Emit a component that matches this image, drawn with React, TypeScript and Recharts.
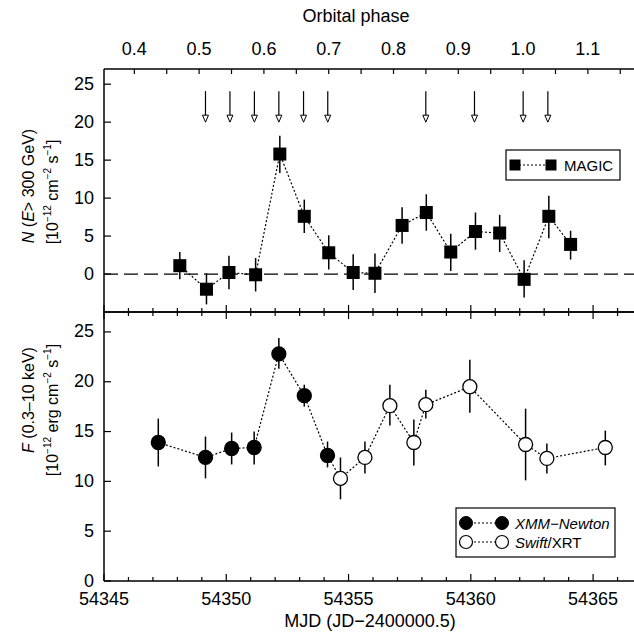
import React from 'react';
import { ComposedChart, Scatter, XAxis, YAxis, ErrorBar, ReferenceLine } from 'recharts';

const FONT = '"Liberation Sans", Arial, Helvetica, sans-serif';

// MAGIC, N(E>300 GeV) in 1e-12 cm^-2 s^-1
const magicMjd = [54348.1, 54349.19, 54350.11, 54351.2, 54352.19, 54353.19, 54354.19, 54355.19, 54356.08, 54357.19, 54358.18, 54359.18, 54360.19, 54361.18, 54362.18, 54363.19, 54364.08];
const magicFlux = [1.1, -2.0, 0.2, -0.1, 15.8, 7.6, 2.8, 0.2, 0.1, 6.4, 8.1, 2.9, 5.6, 5.4, -0.7, 7.6, 3.9];
const magicLow = [-0.7, -4.0, -2.0, -2.3, 13.3, 5.4, 0.6, -2.1, -2.5, 4.0, 5.7, 0.4, 3.2, 2.9, -3.1, 4.7, 1.9];
const magicHigh = [2.9, 0.1, 2.4, 2.1, 18.2, 9.8, 5.1, 2.6, 2.7, 8.8, 10.5, 5.3, 8.1, 7.8, 1.8, 10.3, 5.7];

// arrows above the MAGIC panel
const arrowMjd = [54349.15, 54350.15, 54351.15, 54352.15, 54353.16, 54354.15, 54358.16, 54360.15, 54362.14, 54363.15];
const arrowLevel = 20;

// XMM-Newton, F(0.3-10 keV) in 1e-12 erg cm^-2 s^-1
const xmmMjd = [54347.22, 54349.15, 54350.22, 54351.14, 54352.15, 54353.19, 54354.14];
const xmmFlux = [13.9, 12.4, 13.3, 13.4, 22.8, 18.6, 12.6];
const xmmLow = [11.5, 10.3, 11.7, 11.7, 21.3, 17.5, 11.4];
const xmmHigh = [16.3, 14.5, 14.9, 15.0, 24.4, 19.7, 14.0];

// Swift/XRT
const swiftMjd = [54354.67, 54355.67, 54356.69, 54357.67, 54358.16, 54359.96, 54362.24, 54363.11, 54365.5];
const swiftFlux = [10.3, 12.4, 17.6, 13.9, 17.7, 19.5, 13.7, 12.3, 13.4];
const swiftLow = [8.2, 10.8, 15.6, 11.6, 16.3, 16.9, 10.1, 10.8, 11.6];
const swiftHigh = [12.4, 14.0, 19.7, 16.2, 19.2, 22.2, 17.3, 13.8, 15.1];

const mjdTicks = [54345, 54346, 54347, 54348, 54349, 54350, 54351, 54352, 54353, 54354, 54355, 54356, 54357, 54358, 54359, 54360, 54361, 54362, 54363, 54364, 54365, 54366, 54367];
const phaseTicks = [0.4, 0.45, 0.5, 0.55, 0.6, 0.65, 0.7, 0.75, 0.8, 0.85, 0.9, 0.95, 1.0, 1.05, 1.1, 1.15];
const yTicks = [0, 5, 10, 15, 20, 25];

const MJD_DOMAIN: [number, number] = [54345, 54367];
const PERIOD = 26.496;
const PHASE_START = 0.3532;
const PHASE_DOMAIN: [number, number] = [PHASE_START, PHASE_START + (MJD_DOMAIN[1] - MJD_DOMAIN[0]) / PERIOD];

const magicData = magicMjd.map((x, i) => ({
  x,
  y: magicFlux[i],
  err: [magicFlux[i] - magicLow[i], magicHigh[i] - magicFlux[i]],
}));
const arrowData = arrowMjd.map((x) => ({ x, y: arrowLevel }));
const xrayData = [
  ...xmmMjd.map((x, i) => ({ x, y: xmmFlux[i], err: [xmmFlux[i] - xmmLow[i], xmmHigh[i] - xmmFlux[i]], inst: 'xmm' })),
  ...swiftMjd.map((x, i) => ({ x, y: swiftFlux[i], err: [swiftFlux[i] - swiftLow[i], swiftHigh[i] - swiftFlux[i]], inst: 'swift' })),
].sort((a, b) => a.x - b.x);

// invisible anchors so the extra frame axes get a series of their own
const phaseAnchor = [{ x: 0.5, y: 10 }];
const mjdAnchor = [{ x: 54350, y: 10 }];

const axisStyle = { stroke: '#000', strokeWidth: 1.5 };
const dotted = { stroke: '#000', strokeWidth: 1.2, strokeDasharray: '2 2' };

const MjdTick = ({ x, y, payload, dir, label }: any) => {
  const major = payload.value % 5 === 0;
  const len = major ? 7 : 4;
  return (
    <g>
      <line x1={x} x2={x} y1={y} y2={y + dir * len} stroke="#000" strokeWidth={1.2} />
      {label && major && (
        <text x={x} y={y + 24} textAnchor="middle" fontSize={18} fontFamily={FONT} fill="#000">
          {payload.value}
        </text>
      )}
    </g>
  );
};

const PhaseTick = ({ x, y, payload }: any) => {
  const v = payload.value;
  const major = Math.abs(v * 10 - Math.round(v * 10)) < 1e-6;
  return (
    <g>
      <line x1={x} x2={x} y1={y} y2={y + 5} stroke="#000" strokeWidth={1.2} />
      {major && (
        <text x={x} y={y - 14} textAnchor="middle" fontSize={18} fontFamily={FONT} fill="#000">
          {v.toFixed(1)}
        </text>
      )}
    </g>
  );
};

const YTick = ({ x, y, payload }: any) => (
  <g>
    <line x1={x} x2={x + 7} y1={y} y2={y} stroke="#000" strokeWidth={1.2} />
    <text x={x - 10} y={y + 5.5} textAnchor="end" fontSize={18} fontFamily={FONT} fill="#000">
      {payload.value}
    </text>
  </g>
);

const NoShape = () => <g />;

const SquareShape = ({ cx, cy }: any) => <rect x={cx - 6.5} y={cy - 6.5} width={13} height={13} fill="#000" />;

const ArrowShape = ({ cx, cy }: any) => (
  <g>
    <line x1={cx} x2={cx} y1={cy - 31} y2={cy - 6} stroke="#000" strokeWidth={1.2} />
    <polygon points={`${cx - 3},${cy - 7} ${cx + 3},${cy - 7} ${cx},${cy}`} fill="#fff" stroke="#000" strokeWidth={1} />
  </g>
);

const XrayShape = ({ cx, cy, payload }: any) => (
  <circle cx={cx} cy={cy} r={7} fill={payload.inst === 'xmm' ? '#000' : '#fff'} stroke="#000" strokeWidth={1.3} />
);

const Sup = ({ children }: { children: string }) => (
  <tspan fontSize={10} dy={-7}>
    {children}
  </tspan>
);
const Down = ({ children }: { children: string }) => <tspan dy={7}>{children}</tspan>;

function Overlay() {
  return (
    <svg width={634} height={637} style={{ position: 'absolute', left: 0, top: 0, pointerEvents: 'none' }}>
      <g fontFamily={FONT} fill="#000">
        <text x={356} y={22} textAnchor="middle" fontSize={18}>
          Orbital phase
        </text>
        <text x={370} y={627} textAnchor="middle" fontSize={18}>
          MJD (JD−2400000.5)
        </text>

        <text x={34} y={186} textAnchor="middle" fontSize={16} transform="rotate(-90 34 186)">
          <tspan fontStyle="italic">N</tspan> (<tspan fontStyle="italic">E</tspan>&gt; 300 GeV)
        </text>
        <text x={58} y={192} textAnchor="middle" fontSize={16} transform="rotate(-90 58 192)">
          [10<Sup>−12</Sup>
          <Down> cm</Down>
          <Sup>−2</Sup>
          <Down> s</Down>
          <Sup>−1</Sup>
          <Down>]</Down>
        </text>

        <text x={34} y={400} textAnchor="middle" fontSize={16} transform="rotate(-90 34 400)">
          <tspan fontStyle="italic">F</tspan> (0.3–10 keV)
        </text>
        <text x={58} y={410} textAnchor="middle" fontSize={16} transform="rotate(-90 58 410)">
          [10<Sup>−12</Sup>
          <Down> erg cm</Down>
          <Sup>−2</Sup>
          <Down> s</Down>
          <Sup>−1</Sup>
          <Down>]</Down>
        </text>
      </g>

      {/* MAGIC legend */}
      <rect x={506} y={150} width={114} height={30} fill="#fff" stroke="#000" strokeWidth={1.2} />
      <line x1={515} x2={551} y1={165} y2={165} {...dotted} />
      <rect x={509.5} y={159.5} width={11} height={11} fill="#000" />
      <rect x={545.5} y={159.5} width={11} height={11} fill="#000" />
      <text x={564} y={171} fontSize={15} fontFamily={FONT}>
        MAGIC
      </text>

      {/* X-ray legend */}
      <rect x={456} y={508} width={159} height={49} fill="#fff" stroke="#000" strokeWidth={1.2} />
      <line x1={466} x2={502} y1={523} y2={523} {...dotted} />
      <circle cx={466} cy={523} r={6.5} fill="#000" stroke="#000" />
      <circle cx={502} cy={523} r={6.5} fill="#000" stroke="#000" />
      <text x={515} y={528.5} fontSize={15} fontFamily={FONT} fontStyle="italic">
        XMM−Newton
      </text>
      <line x1={466} x2={502} y1={542} y2={542} {...dotted} />
      <circle cx={466} cy={542} r={6.5} fill="#fff" stroke="#000" strokeWidth={1.2} />
      <circle cx={502} cy={542} r={6.5} fill="#fff" stroke="#000" strokeWidth={1.2} />
      <text x={515} y={547.5} fontSize={15} fontFamily={FONT}>
        <tspan fontStyle="italic">Swift</tspan>/XRT
      </text>
    </svg>
  );
}

const frameAxis = {
  type: 'number' as const,
  dataKey: 'x',
  allowDataOverflow: true,
  interval: 0 as const,
  tickSize: 0,
  tickMargin: 0,
  tickLine: false,
  axisLine: axisStyle,
};

export default function App() {
  return (
    <div style={{ position: 'absolute', left: 0, top: 0, width: 634, height: 637, overflow: 'hidden', background: '#fff' }}>
      <div style={{ position: 'absolute', left: 0, top: 0 }}>
        <ComposedChart width={650} height={313} margin={{ top: 0, right: 8, bottom: 0, left: 0 }}>
          <XAxis
            {...frameAxis}
            xAxisId="phase"
            orientation="top"
            domain={PHASE_DOMAIN}
            ticks={phaseTicks}
            height={69}
            tick={<PhaseTick />}
          />
          <XAxis
            {...frameAxis}
            domain={MJD_DOMAIN}
            ticks={mjdTicks}
            height={1}
            tick={(p: any) => <MjdTick {...p} dir={-1} />}
          />
          <YAxis
            dataKey="y"
            type="number"
            domain={[-5, 27]}
            allowDataOverflow
            ticks={yTicks}
            interval={0}
            width={104}
            tickSize={0}
            tickMargin={0}
            tickLine={false}
            axisLine={axisStyle}
            tick={<YTick />}
          />
          <ReferenceLine y={0} stroke="#000" strokeWidth={1.3} strokeDasharray="14 6" />
          <Scatter xAxisId="phase" data={phaseAnchor} shape={NoShape} isAnimationActive={false} />
          <Scatter data={magicData} shape={SquareShape} line={dotted} lineType="joint" isAnimationActive={false}>
            <ErrorBar dataKey="err" direction="y" width={0} stroke="#000" strokeWidth={1.5} />
          </Scatter>
          <Scatter data={arrowData} shape={ArrowShape} isAnimationActive={false} />
        </ComposedChart>
      </div>
      <div style={{ position: 'absolute', left: 0, top: 311 }}>
        <ComposedChart width={650} height={326} margin={{ top: 0, right: 8, bottom: 0, left: 0 }}>
          <XAxis
            {...frameAxis}
            xAxisId="mjdTop"
            orientation="top"
            domain={MJD_DOMAIN}
            ticks={mjdTicks}
            height={1}
            tick={(p: any) => <MjdTick {...p} dir={1} />}
          />
          <XAxis
            {...frameAxis}
            domain={MJD_DOMAIN}
            ticks={mjdTicks}
            height={56}
            tick={(p: any) => <MjdTick {...p} dir={-1} label />}
          />
          <YAxis
            dataKey="y"
            type="number"
            domain={[0, 27]}
            allowDataOverflow
            ticks={yTicks}
            interval={0}
            width={104}
            tickSize={0}
            tickMargin={0}
            tickLine={false}
            axisLine={axisStyle}
            tick={<YTick />}
          />
          <Scatter xAxisId="mjdTop" data={mjdAnchor} shape={NoShape} isAnimationActive={false} />
          <Scatter data={xrayData} shape={XrayShape} line={dotted} lineType="joint" isAnimationActive={false}>
            <ErrorBar dataKey="err" direction="y" width={0} stroke="#000" strokeWidth={1.5} />
          </Scatter>
        </ComposedChart>
      </div>
      <Overlay />
    </div>
  );
}
